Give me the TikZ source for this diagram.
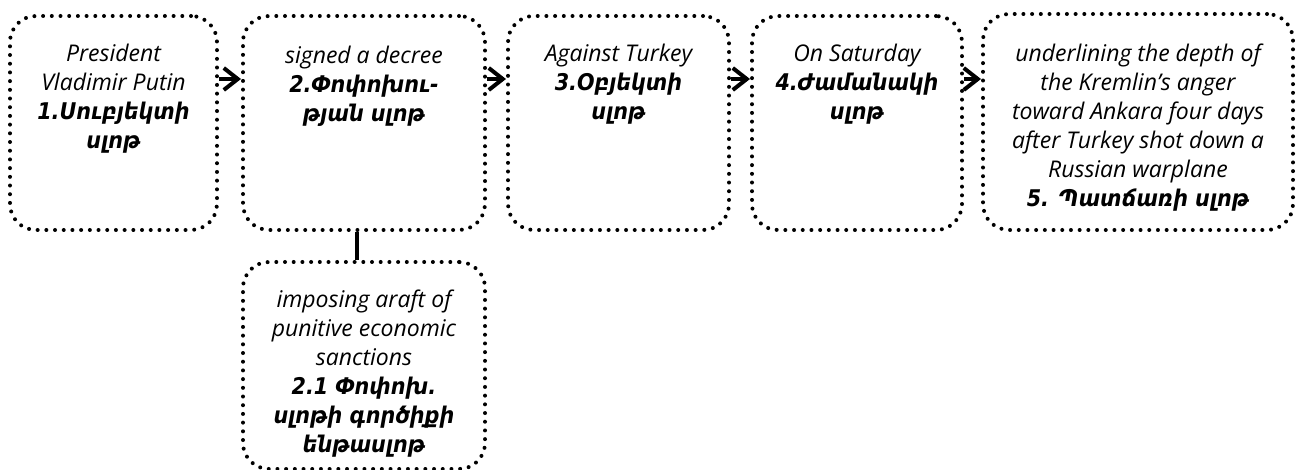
\documentclass[tikz,border=0pt]{standalone}
\usepackage{fontspec}
\setmainfont{Open Sans}
\newfontfamily\armfont{DejaVu Sans Condensed}
\usetikzlibrary{arrows.meta,calc}
\newcommand{\hy}[1]{{\armfont\bfseries\itshape #1}}

\begin{document}
\begin{tikzpicture}[x=1pt,y=-1pt,
  slot/.style={draw=black, line width=4pt, dash pattern=on 0pt off 8.7pt,
    line cap=round, rounded corners=26pt, inner sep=0pt},
  txt/.style={anchor=north, align=center, inner sep=0pt,
    font=\fontsize{23}{29}\selectfont\itshape},
  arr/.style={line width=4pt, -{Straight Barb[length=14pt,width=22pt]}},
  link/.style={line width=4pt}]
  \useasboundingbox (0,0) rectangle (1298,470);

  % slot boxes
  \node[slot, minimum width=207pt, minimum height=214pt] (b1) at (113.5,123) {};
  \node[slot, minimum width=242pt, minimum height=214pt] (b2) at (364,123) {};
  \node[slot, minimum width=221pt, minimum height=214pt] (b3) at (618.5,123) {};
  \node[slot, minimum width=210pt, minimum height=214pt] (b4) at (857,123) {};
  \node[slot, minimum width=310pt, minimum height=216pt] (b5) at (1138,122) {};
  \node[slot, minimum width=242pt, minimum height=207pt] (b21) at (364,365.5) {};

  % texts
  \node[txt] (t1) at ([yshift=-30pt]b1.north)
    {President\\Vladimir Putin\\\hy{1.Սուբյեկտի}\\\hy{սլոթ}};
  \node[txt] (t2) at ([yshift=-32pt]b2.north)
    {signed a decree\\\hy{2.Փոփոխու-}\\\hy{թյան սլոթ}};
  \node[txt] (t3) at ([yshift=-30pt]b3.north)
    {Against Turkey\\\hy{3.Օբյեկտի}\\\hy{սլոթ}};
  \node[txt] (t4) at ([yshift=-30pt]b4.north)
    {On Saturday\\\hy{4.Ժամանակի}\\\hy{սլոթ}};
  \node[txt] (t5) at ([yshift=-32pt]b5.north)
    {underlining the depth of\\the Kremlin’s anger\\toward Ankara four days\\after Turkey shot down a\\Russian warplane\\\hy{5. Պատճառի սլոթ}};
  \node[txt] (t21) at ([yshift=-30pt]b21.north)
    {imposing araft of\\punitive economic\\sanctions\\\hy{2.1 Փոփոխ.}\\\hy{սլոթի գործիքի}\\\hy{ենթասլոթ}};

  % connectors
  \coordinate (a1) at ($(b1.north east)+(0,65)$);
  \coordinate (a2) at ($(b2.north east)+(0,65)$);
  \coordinate (a3) at ($(b3.north east)+(0,65)$);
  \coordinate (a4) at ($(b4.north east)+(0,65)$);
  \draw[arr] (a1) -- (b2.west |- a1);
  \draw[arr] (a2) -- (b3.west |- a2);
  \draw[arr] (a3) -- (b4.west |- a3);
  \draw[arr] (a4) -- (b5.west |- a4);
  \draw[link] ([xshift=-7pt]b2.south) -- ([xshift=-7pt]b21.north);
\end{tikzpicture}
\end{document}
